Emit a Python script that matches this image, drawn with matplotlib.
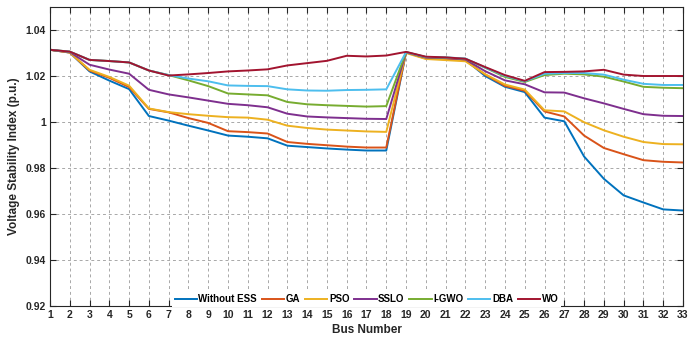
import matplotlib
matplotlib.use("Agg")
import matplotlib.pyplot as plt
import numpy as np

plt.rcParams['font.family'] = ['Liberation Sans', 'DejaVu Sans']

buses = list(range(1, 34))
series_names = ["Without ESS", "GA", "PSO", "SSLO", "I-GWO", "DBA", "WO"]

without_ess = [1.0314, 1.0302, 1.0220, 1.0180, 1.0143, 1.0026, 1.0006, 0.9984, 0.9963, 0.9941,
               0.9936, 0.9929, 0.9897, 0.9891, 0.9885, 0.9880, 0.9876, 0.9876, 1.0302, 1.0278,
               1.0276, 1.0270, 1.0200, 1.0153, 1.0130, 1.0019, 1.0003, 0.9850, 0.9753, 0.9681,
               0.9650, 0.9620, 0.9615]
ga = [1.0314, 1.0302, 1.0224, 1.0192, 1.0152, 1.0057, 1.0042, 1.0017, 0.9996, 0.9960,
      0.9956, 0.9950, 0.9913, 0.9905, 0.9899, 0.9893, 0.9889, 0.9889, 1.0303, 1.0276,
      1.0273, 1.0268, 1.0206, 1.0157, 1.0136, 1.0046, 1.0024, 0.9941, 0.9887, 0.9860,
      0.9834, 0.9827, 0.9824]
pso = [1.0314, 1.0302, 1.0227, 1.0196, 1.0158, 1.0059, 1.0043, 1.0034, 1.0027, 1.0021,
       1.0019, 1.0010, 0.9984, 0.9974, 0.9967, 0.9963, 0.9959, 0.9957, 1.0300, 1.0274,
       1.0269, 1.0264, 1.0208, 1.0163, 1.0141, 1.0051, 1.0046, 0.9999, 0.9964, 0.9936,
       0.9913, 0.9904, 0.9903]
sslo = [1.0314, 1.0304, 1.0249, 1.0228, 1.0210, 1.0140, 1.0120, 1.0107, 1.0093, 1.0079,
        1.0073, 1.0064, 1.0036, 1.0024, 1.0020, 1.0017, 1.0014, 1.0013, 1.0303, 1.0280,
        1.0278, 1.0272, 1.0221, 1.0181, 1.0164, 1.0129, 1.0128, 1.0103, 1.0081, 1.0057,
        1.0034, 1.0027, 1.0026]
igwo = [1.0314, 1.0306, 1.0270, 1.0265, 1.0259, 1.0224, 1.0204, 1.0181, 1.0156, 1.0124,
        1.0120, 1.0116, 1.0087, 1.0077, 1.0073, 1.0070, 1.0067, 1.0069, 1.0304, 1.0282,
        1.0280, 1.0275, 1.0236, 1.0196, 1.0174, 1.0204, 1.0210, 1.0207, 1.0197, 1.0176,
        1.0153, 1.0149, 1.0147]
dba = [1.0314, 1.0306, 1.0270, 1.0265, 1.0259, 1.0224, 1.0204, 1.0189, 1.0177, 1.0159,
       1.0157, 1.0156, 1.0142, 1.0137, 1.0136, 1.0139, 1.0140, 1.0142, 1.0304, 1.0283,
       1.0281, 1.0276, 1.0237, 1.0201, 1.0177, 1.0210, 1.0213, 1.0213, 1.0206, 1.0184,
       1.0166, 1.0161, 1.0161]
wo = [1.0314, 1.0306, 1.0270, 1.0265, 1.0259, 1.0224, 1.0202, 1.0207, 1.0213, 1.0220,
      1.0224, 1.0229, 1.0246, 1.0256, 1.0266, 1.0288, 1.0285, 1.0289, 1.0305, 1.0284,
      1.0281, 1.0275, 1.0239, 1.0204, 1.0179, 1.0217, 1.0218, 1.0220, 1.0227, 1.0206,
      1.0200, 1.0200, 1.0200]

y_ticks = [0.92, 0.94, 0.96, 0.98, 1.0, 1.02, 1.04]
y_tick_labels = ["0.92", "0.94", "0.96", "0.98", "1", "1.02", "1.04"]

colors = ["#0072BD", "#D95319", "#EDB120", "#7E2F8E", "#77AC30", "#4DBEEE", "#A2142F"]
all_series = [without_ess, ga, pso, sslo, igwo, dba, wo]

fig = plt.figure(figsize=(7.0, 3.42), dpi=100)
ax = fig.add_axes([0.0714, 0.1053, 0.9043, 0.8742])

for name, vals, c in zip(series_names, all_series, colors):
    ax.plot(buses, vals, color=c, linewidth=1.4, label=name)

ax.set_xlim(1, 33)
ax.set_ylim(0.92, 1.05)
ax.set_xticks(buses)
ax.set_xticklabels([str(b) for b in buses])
ax.set_yticks(y_ticks)
ax.set_yticklabels(y_tick_labels)

ax.grid(True, linestyle=(0, (3, 3)), color="#a8a8a8", linewidth=0.7)
ax.set_axisbelow(True)

ax.tick_params(direction="in", top=True, right=True, length=4, width=0.8,
               labelsize=7.5, colors="#262626", pad=3)
for lbl in ax.get_xticklabels() + ax.get_yticklabels():
    lbl.set_fontweight("bold")
for sp in ax.spines.values():
    sp.set_color("#262626")
    sp.set_linewidth(0.8)

ax.set_xlabel("Bus Number", fontsize=8.5, fontweight="bold", color="#262626", labelpad=3)
ax.set_ylabel("Voltage Stability Index (p.u.)", fontsize=8.5, fontweight="bold",
              color="#262626", labelpad=4)

leg = ax.legend(loc="lower center", bbox_to_anchor=(0.5, -0.02), ncol=7, frameon=True,
                prop={"size": 7, "weight": "bold"}, handlelength=2.3, handletextpad=0.15,
                columnspacing=0.5, borderpad=0.3, fancybox=False)
leg.get_frame().set_edgecolor("none")
leg.get_frame().set_facecolor("white")
leg.get_frame().set_alpha(1.0)

fig.savefig("out.png", dpi=100)
